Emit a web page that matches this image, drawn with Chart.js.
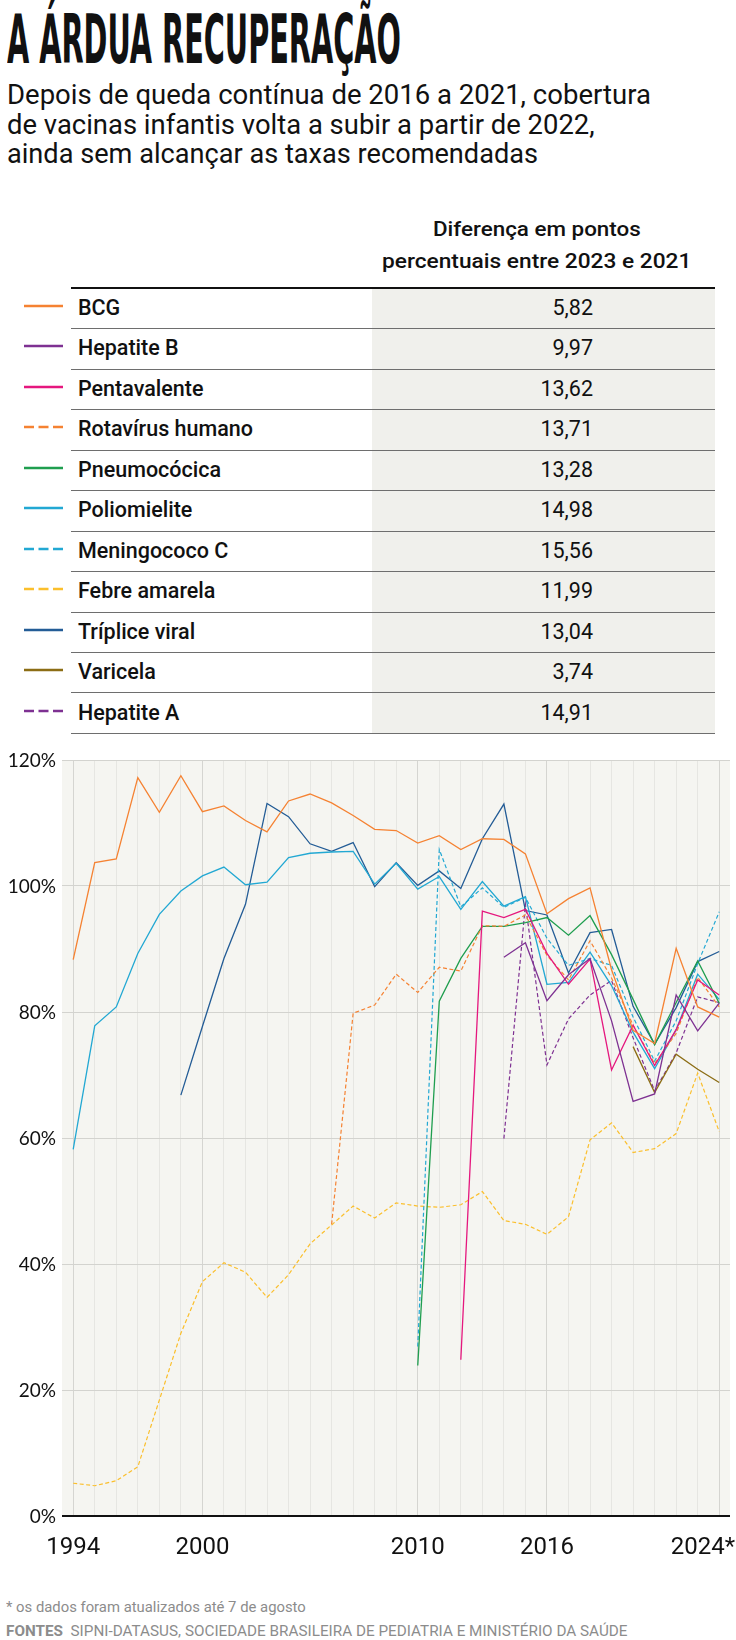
<!DOCTYPE html>
<html lang="pt-BR">
  <head>
    <meta charset="UTF-8" />
    <title>A árdua recuperação</title>
    <script src="https://cdn.jsdelivr.net/npm/chart.js"></script>
    <style>
      * {
        margin: 0;
        padding: 0;
        box-sizing: border-box;
      }

      body {
        width: 736px;
        height: 1640px;
        position: relative;
        overflow: hidden;
        background: #fff;
        color: #111;
        font-family: Roboto, "Noto Sans", sans-serif;
      }

      .fit {
        display: inline-block;
        white-space: nowrap;
        transform-origin: left top;
      }

      #title {
        position: absolute;
        left: 7px;
        top: 6px;
        font-family: "Liberation Sans Narrow", "DejaVu Sans Condensed", sans-serif;
        font-weight: bold;
        font-size: 68px;
        line-height: 68px;
      }

      #subtitle {
        position: absolute;
        left: 7px;
        top: 81px;
        font-size: 27px;
        line-height: 29.5px;
      }

      #subtitle div {
        height: 29.5px;
      }

      #table-head {
        position: absolute;
        left: 382px;
        top: 214px;
        font-size: 21px;
        font-weight: 500;
        line-height: 31.6px;
      }

      #table-head div {
        height: 31.6px;
      }

      .head-line-1 {
        margin-left: 51px;
      }

      #top-rule {
        position: absolute;
        left: 71px;
        top: 287px;
        width: 644px;
        height: 2px;
        background: #111;
      }

      #value-column {
        position: absolute;
        left: 372px;
        top: 289px;
        width: 343px;
        height: 445px;
        background: #f0f0ec;
      }

      .row {
        position: absolute;
        left: 0;
        width: 736px;
        height: 40.45px;
      }

      .row .sep {
        position: absolute;
        left: 71px;
        bottom: 0;
        width: 644px;
        height: 1px;
        background: #6e6e6e;
      }

      .row svg {
        position: absolute;
        left: 24px;
        top: 15px;
      }

      .row .name {
        position: absolute;
        left: 78px;
        top: -1px;
        font-size: 21.5px;
        font-weight: 500;
        line-height: 40px;
      }

      .row .value {
        position: absolute;
        right: 143px;
        top: -1px;
        font-size: 21.5px;
        line-height: 40px;
      }

      #chart-box {
        position: absolute;
        left: 0;
        top: 740px;
        width: 736px;
        height: 820px;
      }

      .foot {
        position: absolute;
        left: 6px;
        font-size: 14px;
        line-height: 17px;
        color: #8c8c8c;
      }
    </style>
  </head>
  <body>
    <div id="title"><span class="fit" data-w="394">A ÁRDUA RECUPERAÇÃO</span></div>

    <div id="subtitle">
      <div><span class="fit" data-w="644">Depois de queda contínua de 2016 a 2021, cobertura</span></div>
      <div><span class="fit" data-w="588">de vacinas infantis volta a subir a partir de 2022,</span></div>
      <div><span class="fit" data-w="531">ainda sem alcançar as taxas recomendadas</span></div>
    </div>

    <div id="table-head">
      <div class="head-line-1"><span class="fit" data-w="208">Diferença em pontos</span></div>
      <div><span class="fit" data-w="309">percentuais entre 2023 e 2021</span></div>
    </div>

    <div id="value-column"></div>
    <div id="top-rule"></div>
    <div id="rows"></div>

    <div id="chart-box">
      <canvas id="coverage-chart" width="736" height="820"></canvas>
    </div>

    <div class="foot" style="top: 1599px">
      <span class="fit" data-w="300">* os dados foram atualizados até 7 de agosto</span>
    </div>
    <div class="foot" style="top: 1623px">
      <span class="fit" data-w="622"><b>FONTES</b>&nbsp; SIPNI-DATASUS, SOCIEDADE BRASILEIRA DE PEDIATRIA E MINISTÉRIO DA SAÚDE</span>
    </div>

    <script>
      // anos do eixo x
      const years = [
        1994, 1995, 1996, 1997, 1998, 1999, 2000, 2001, 2002, 2003, 2004,
        2005, 2006, 2007, 2008, 2009, 2010, 2011, 2012, 2013, 2014, 2015,
        2016, 2017, 2018, 2019, 2020, 2021, 2022, 2023, 2024,
      ];
      const xTickYears = [1994, 2000, 2010, 2016, 2024];
      const xTickLabels = ["1994", "2000", "2010", "2016", "2024*"];
      const yTicks = [0, 20, 40, 60, 80, 100, 120];
      const yTickLabels = ["0%", "20%", "40%", "60%", "80%", "100%", "120%"];

      // cobertura vacinal (%), 1994 a 2024
      const bcg = [
        88.3, 103.7, 104.3, 117.2, 111.7, 117.5, 111.8, 112.7, 110.4, 108.6,
        113.5, 114.6, 113.2, 111.2, 109.0, 108.8, 106.8, 108.0, 105.8, 107.5,
        107.4, 105.1, 95.6, 98.0, 99.7, 86.7, 77.1, 75.0, 90.1, 80.8, 79.2,
      ];
      const hepatiteB = [
        null, null, null, null, null, null, null, null, null, null,
        null, null, null, null, null, null, null, null, null, null,
        88.7, 91.0, 81.8, 85.9, 88.5, 78.6, 65.8, 67.0, 82.7, 77.0, 81.4,
      ];
      const pentavalente = [
        null, null, null, null, null, null, null, null, null, null,
        null, null, null, null, null, null, null, null, 24.8, 96.0,
        95.0, 96.3, 89.3, 84.4, 88.4, 70.8, 77.9, 71.5, 77.2, 85.1, 82.7,
      ];
      const rotavirus = [
        null, null, null, null, null, null, null, null, null, null,
        null, null, 46.3, 79.8, 81.1, 86.0, 83.1, 87.1, 86.5, 93.7,
        93.6, 95.4, 89.0, 85.1, 91.3, 85.4, 77.9, 71.8, 76.6, 85.5, 80.8,
      ];
      const pneumococica = [
        null, null, null, null, null, null, null, null, null, null,
        null, null, null, null, null, null, 23.9, 81.7, 88.5, 93.6,
        93.6, 94.2, 95.0, 92.2, 95.3, 89.1, 82.0, 74.8, 81.5, 88.1, 81.4,
      ];
      const poliomielite = [
        58.2, 77.8, 80.8, 89.3, 95.5, 99.2, 101.6, 103.0, 100.2, 100.6,
        104.5, 105.2, 105.4, 105.5, 100.3, 103.6, 99.5, 101.5, 96.3, 100.7,
        96.8, 98.3, 84.4, 84.7, 89.5, 84.2, 76.8, 71.0, 77.2, 86.0, 82.0,
      ];
      const meningococoC = [
        null, null, null, null, null, null, null, null, null, null,
        null, null, null, null, null, null, 26.9, 105.8, 96.7, 99.7,
        96.6, 98.2, 91.7, 87.4, 88.5, 87.4, 79.2, 72.2, 78.6, 87.7, 95.9,
      ];
      const febreAmarela = [
        5.2, 4.8, 5.6, 7.8, 18.4, 29.0, 37.2, 40.2, 38.7, 34.7,
        38.3, 43.2, 46.2, 49.2, 47.3, 49.7, 49.2, 49.0, 49.4, 51.5,
        46.9, 46.3, 44.7, 47.5, 59.7, 62.4, 57.7, 58.3, 60.7, 70.3, 61.0,
      ];
      const tripliceViral = [
        null, null, null, null, null, 66.8, 77.7, 88.5, 97.1, 113.1,
        111.0, 106.7, 105.5, 106.9, 99.9, 103.7, 100.1, 102.4, 99.6, 107.5,
        113.0, 96.1, 95.4, 86.2, 92.6, 93.1, 80.9, 74.9, 80.7, 88.0, 89.6,
      ];
      const varicela = [
        null, null, null, null, null, null, null, null, null, null,
        null, null, null, null, null, null, null, null, null, null,
        null, null, null, null, null, null, 74.5, 67.2, 73.3, 70.9, 68.8,
      ];
      const hepatiteA = [
        null, null, null, null, null, null, null, null, null, null,
        null, null, null, null, null, null, null, null, null, null,
        59.9, 97.1, 71.6, 78.9, 82.7, 85.0, 75.9, 67.5, 73.5, 82.4, 81.5,
      ];

      // tabela
      const vaccineNames = [
        "BCG", "Hepatite B", "Pentavalente", "Rotavírus humano", "Pneumocócica",
        "Poliomielite", "Meningococo C", "Febre amarela", "Tríplice viral",
        "Varicela", "Hepatite A",
      ];
      const diff2023vs2021 = [
        "5,82", "9,97", "13,62", "13,71", "13,28", "14,98", "15,56", "11,99",
        "13,04", "3,74", "14,91",
      ];
      const seriesValues = [
        bcg, hepatiteB, pentavalente, rotavirus, pneumococica, poliomielite,
        meningococoC, febreAmarela, tripliceViral, varicela, hepatiteA,
      ];
      const seriesColors = [
        "#f58232", "#7e3192", "#e5177e", "#f58232", "#1f9e4f", "#22a8d3",
        "#22a8d3", "#fbbf2c", "#235c96", "#8c6d14", "#7e3192",
      ];
      const seriesDashed = [
        false, false, false, true, false, false, true, true, false, false, true,
      ];

      // linhas da tabela
      var rowsBox = document.getElementById("rows");
      vaccineNames.forEach(function (name, i) {
        var row = document.createElement("div");
        row.className = "row";
        row.style.top = 289 + i * 40.45 + "px";
        var dash = seriesDashed[i] ? ' stroke-dasharray="10 4.5"' : "";
        row.innerHTML =
          '<svg width="39" height="4"><line x1="0" y1="2" x2="39" y2="2" stroke="' +
          seriesColors[i] + '" stroke-width="2.5"' + dash + "/></svg>" +
          '<span class="name">' + name + "</span>" +
          '<span class="value">' + diff2023vs2021[i] + "</span>" +
          '<div class="sep"></div>';
        rowsBox.appendChild(row);
      });

      // ajusta a largura dos textos
      function fitTexts() {
        document.querySelectorAll(".fit").forEach(function (el) {
          var w = parseFloat(el.getAttribute("data-w"));
          el.style.transform = "scaleX(" + w / el.offsetWidth + ")";
        });
      }
      fitTexts();
      document.fonts.ready.then(fitTexts);

      const labeledYears = xTickYears;

      const plotBackground = {
        id: "plotBackground",
        beforeDraw(chart) {
          const { ctx, chartArea: a } = chart;
          ctx.save();
          ctx.fillStyle = "#f5f5f1";
          ctx.fillRect(a.left, a.top, a.right - a.left, a.bottom - a.top);
          ctx.restore();
        },
      };

      // linha do zero e rótulos dos eixos
      const axisLabels = {
        id: "axisLabels",
        afterDraw(chart) {
          const { ctx, chartArea: a } = chart;
          const x = chart.scales.x;
          const y = chart.scales.y;
          const y0 = y.getPixelForValue(0);
          ctx.save();
          ctx.strokeStyle = "#111";
          ctx.lineWidth = 2;
          ctx.beginPath();
          ctx.moveTo(a.left, y0);
          ctx.lineTo(a.right, y0);
          ctx.stroke();

          ctx.fillStyle = "#111";
          ctx.font = "19px Lato";
          ctx.textAlign = "right";
          ctx.textBaseline = "middle";
          yTicks.forEach(function (v, i) {
            ctx.fillText(yTickLabels[i], a.left - 6, y.getPixelForValue(v) + 1);
          });

          ctx.font = "24px Roboto";
          ctx.textBaseline = "alphabetic";
          xTickYears.forEach(function (yr, i) {
            const last = i === xTickYears.length - 1;
            ctx.textAlign = last ? "right" : "center";
            const px = last ? chart.width - 1 : x.getPixelForValue(yr);
            ctx.fillText(xTickLabels[i], px, y0 + 38);
          });
          ctx.restore();
        },
      };

      const datasets = seriesValues.map(function (values, i) {
        return {
          label: vaccineNames[i],
          data: values
            .map(function (v, j) {
              return { x: years[j], y: v };
            })
            .filter(function (p) {
              return p.y !== null;
            }),
          borderColor: seriesColors[i],
          borderWidth: seriesDashed[i] ? 1.2 : 1.3,
          borderDash: seriesDashed[i] ? [4, 2.5] : [],
          pointRadius: 0,
          fill: false,
          tension: 0,
        };
      });

      var ctx = document.getElementById("coverage-chart").getContext("2d");
      var coverageChart = new Chart(ctx, {
        type: "line",
        data: { datasets: datasets },
        plugins: [plotBackground, axisLabels],
        options: {
          responsive: false,
          animation: false,
          layout: { padding: { top: 20, right: 6, bottom: 44, left: 0 } },
          plugins: { legend: { display: false }, tooltip: { enabled: false } },
          scales: {
            x: {
              type: "linear",
              min: 1993.48,
              max: 2024.5,
              afterBuildTicks: function (s) {
                s.ticks = years.map(function (v) {
                  return { value: v };
                });
              },
              afterFit: function (s) {
                s.height = 0;
              },
              ticks: { display: false },
              border: { display: false },
              grid: {
                drawTicks: false,
                lineWidth: 1,
                color: function (c) {
                  return labeledYears.includes(c.tick.value) ? "#d5d5d1" : "#e6e6e2";
                },
              },
            },
            y: {
              min: 0,
              max: 120,
              afterBuildTicks: function (s) {
                s.ticks = yTicks.map(function (v) {
                  return { value: v };
                });
              },
              afterFit: function (s) {
                s.width = 62;
              },
              ticks: { display: false },
              border: { display: false },
              grid: {
                drawTicks: false,
                color: function (c) {
                  return c.tick.value === 0 ? "rgba(0,0,0,0)" : "#d3d3cf";
                },
              },
            },
          },
        },
      });
    </script>
  </body>
</html>
